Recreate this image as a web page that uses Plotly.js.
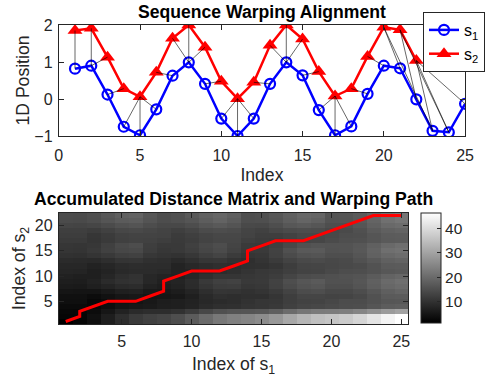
<!DOCTYPE html>
<html>
<head>
<meta charset="utf-8">
<script src="https://cdn.plot.ly/plotly-3.0.1.min.js"></script>
<style>html,body{margin:0;padding:0;background:#fff;}#chart{width:485px;height:381px;}</style>
</head>
<body>
<div id="chart"></div>
<script>
// ---- data ----
const s1 = [0.82,0.90,0.12,-0.75,-0.98,-0.28,0.63,0.99,0.41,-0.53,-1.00,-0.53,0.41,0.99,0.64,-0.30,-0.98,-0.74,0.14,0.90,0.83,-0.01,-0.86,-0.90,-0.13];
const s2 = [1.85,1.91,1.13,0.28,0.06,0.72,1.64,2.00,1.40,0.48,0.01,0.45,1.45,2.00,1.62,0.74,0.08,0.28,1.15,1.94,1.87,1.04];

// warping path (index of s1, index of s2) as drawn on the matrix
const pathI = [1,2,2,3,4,5,6,7,8,8,8,9,10,11,12,13,14,14,14,15,16,17,18,19,20,21,22,23,24,25];
const pathJ = [1,2,3,4,5,5,5,6,7,8,9,10,11,11,11,12,13,14,15,16,17,17,17,18,19,20,21,22,22,22];

// alignment links drawn in the top panel (index of s1, index of s2)
const linkI = [1,2,2,3,4,5,6,7,8,8,8,9,10,11,12,13,14,14,14,15,16,17,18,19,20,21,22,23,24,23,24,25];
const linkJ = [1,2,3,4,5,5,5,6,7,8,9,10,11,11,11,12,13,14,15,16,17,17,17,18,19,20,21,20,21,22,22,22];

// accumulated distance matrix, rows = index of s2 (1..22), cols = index of s1 (1..25)
const accRows = [
[1.0,2.0,3.7,6.3,9.1,11.3,12.5,13.4,14.8,17.2,20.0,22.4,23.8,24.7,25.9,28.1,30.9,33.5,35.2,36.1,37.2,39.0,41.7,44.5,46.5],
[2.1,2.0,3.8,6.4,9.2,11.3,12.6,13.4,14.9,17.2,20.1,22.5,23.9,24.8,26.0,28.1,31.0,33.5,35.3,36.2,37.2,39.1,41.8,44.5,46.5],
[2.4,2.3,3.1,4.9,7.0,8.5,9.0,9.1,9.8,11.5,13.6,15.3,16.0,16.1,16.6,18.0,20.2,22.0,23.0,23.2,23.5,24.7,26.7,28.7,30.0],
[3.0,2.9,2.4,3.5,4.7,5.3,5.6,6.3,6.5,7.3,8.6,9.4,9.5,10.2,10.6,11.2,12.4,13.4,13.6,14.2,14.7,15.0,16.2,17.4,17.8],
[3.7,3.7,2.5,3.2,4.3,4.6,5.2,6.1,6.5,7.1,8.1,8.7,9.1,10.0,10.6,10.9,12.0,12.8,12.9,13.7,14.5,14.5,15.5,16.4,16.6],
[3.8,3.9,3.1,4.0,4.9,5.3,4.7,5.0,5.3,6.5,8.3,9.4,9.0,9.3,9.4,10.4,12.1,13.4,13.4,13.0,13.1,13.9,15.5,17.1,17.3],
[4.7,4.6,4.6,5.5,6.6,6.9,5.7,5.4,6.2,7.5,9.2,10.4,10.3,9.7,10.3,11.3,13.0,14.5,14.9,13.8,13.8,14.8,16.4,18.0,18.8],
[5.8,5.7,6.5,7.4,8.5,8.9,7.1,6.4,7.0,8.7,10.5,11.7,11.8,10.7,11.0,12.6,14.3,15.8,16.3,14.9,14.9,15.9,17.7,19.3,20.1],
[6.4,6.2,7.0,8.6,9.7,10.1,7.9,6.8,7.4,8.9,11.1,12.4,12.7,11.1,11.4,12.7,15.0,16.4,17.0,15.4,15.4,16.4,18.1,20.0,20.8],
[6.8,6.6,6.5,7.8,9.2,10.0,8.0,7.3,6.9,7.9,9.3,10.4,10.4,10.9,11.1,11.9,13.3,14.6,14.9,15.3,15.7,15.9,17.3,18.7,19.3],
[7.6,7.5,6.6,7.3,8.3,8.6,8.6,8.3,7.3,7.4,8.4,8.9,9.3,10.3,11.0,11.3,12.3,13.0,13.1,14.0,14.8,14.9,15.7,16.6,16.8],
[7.9,7.9,7.0,7.8,8.7,9.0,8.8,8.8,7.3,8.2,8.8,9.4,9.0,9.5,9.7,10.5,11.9,13.1,13.3,13.6,14.0,14.4,15.7,17.1,17.2],
[8.6,8.5,8.3,9.2,10.3,10.5,9.6,9.2,8.3,9.3,10.7,10.8,10.0,9.4,10.3,11.5,12.9,14.1,14.4,13.9,14.2,15.4,16.7,18.1,18.7],
[9.7,9.6,10.2,11.1,12.2,12.6,10.9,10.2,9.9,10.9,12.3,13.2,11.6,10.5,10.8,12.6,14.4,15.6,15.9,15.0,15.0,16.2,18.3,19.6,20.2],
[10.5,10.3,11.1,12.6,13.7,14.1,11.9,10.9,11.1,12.1,13.5,14.4,12.8,11.1,11.4,12.7,15.2,16.8,17.1,15.7,15.8,16.7,18.7,20.8,21.4],
[10.6,10.5,10.9,12.4,14.1,14.7,12.0,11.1,11.2,12.4,13.8,14.8,13.2,11.3,11.2,12.2,13.9,15.4,16.0,15.8,15.8,16.5,18.1,19.7,20.6],
[11.4,11.3,10.5,11.3,12.4,12.8,12.6,12.0,11.4,11.8,12.9,13.5,13.5,12.2,11.7,11.6,12.6,13.4,13.5,14.3,15.1,15.2,16.1,17.1,17.3],
[11.9,11.9,10.7,11.5,12.6,13.0,12.9,12.7,11.6,12.2,13.1,13.7,13.6,13.0,12.1,12.1,12.8,13.6,13.6,14.1,14.7,15.0,16.1,17.3,17.5],
[12.2,12.2,11.7,12.6,13.7,14.0,13.5,12.9,12.3,13.2,14.4,14.8,14.4,13.1,12.6,13.6,14.3,14.7,14.6,13.8,14.2,15.3,17.0,18.2,18.6],
[13.4,13.2,13.5,14.4,15.5,15.9,14.8,13.8,13.8,14.8,16.2,16.9,15.9,14.1,13.9,14.9,16.5,17.0,16.4,14.9,14.9,16.1,18.1,19.8,20.2],
[14.4,14.2,14.9,16.1,17.2,17.6,16.0,14.7,15.3,16.2,17.6,18.6,17.3,14.9,15.1,16.1,17.7,19.1,18.1,15.8,15.9,16.8,18.8,20.9,21.8],
[14.6,14.3,15.1,16.7,18.2,18.6,16.4,14.8,15.3,16.9,18.3,19.2,18.0,15.0,15.3,16.5,18.1,19.5,19.0,16.0,16.1,17.0,18.7,20.7,21.8]
];
const colorbarTicks = [10,20,30,40];

// ---- build traces ----
const idx1 = s1.map((_, k) => k + 1);
const idx2 = s2.map((_, k) => k + 1);

const linkX = [], linkY = [];
for (let k = 0; k < linkI.length; k++) {
  linkX.push(linkI[k], linkJ[k], null);
  linkY.push(s1[linkI[k]-1], s2[linkJ[k]-1], null);
}

const FONT = 'Arial, "Liberation Sans", Helvetica, sans-serif';
const AX = '#262626';

let zmin = Infinity, zmax = -Infinity;
accRows.forEach(r => r.forEach(v => { if (v < zmin) zmin = v; if (v > zmax) zmax = v; }));

const traces = [
  {x: idx1, y: s1, type: 'scatter', mode: 'lines+markers', name: 's<sub>1</sub>',
   line: {color: '#0000FF', width: 2.5},
   marker: {symbol: 'circle-open', size: 10, color: '#0000FF', line: {width: 2.2, color: '#0000FF'}},
   xaxis: 'x', yaxis: 'y'},
  {x: idx2, y: s2, type: 'scatter', mode: 'lines+markers', name: 's<sub>2</sub>',
   line: {color: '#FF0000', width: 2.5},
   marker: {symbol: 'triangle-up', size: 13, color: '#FF0000'},
   xaxis: 'x', yaxis: 'y'},
  {x: linkX, y: linkY, type: 'scatter', mode: 'lines', showlegend: false,
   line: {color: '#000000', width: 0.6}, xaxis: 'x', yaxis: 'y', connectgaps: false},
  {z: accRows, x: idx1, y: idx2, type: 'heatmap', xaxis: 'x2', yaxis: 'y2',
   zmin: zmin, zmax: zmax,
   colorscale: [[0, '#000000'], [1, '#FFFFFF']], showscale: true,
   colorbar: {
     x: 423/485, xanchor: 'left', xref: 'paper',
     y: (381-268)/381, yanchor: 'middle', yref: 'paper',
     len: 110, lenmode: 'pixels', thickness: 20, thicknessmode: 'pixels',
     outlinecolor: AX, outlinewidth: 1,
     tickvals: colorbarTicks, ticks: 'inside', ticklen: 4, tickcolor: AX,
     ticklabelstandoff: 3,
     tickfont: {family: FONT, size: 15.5, color: AX},
     xpad: 0, ypad: 0
   }, showlegend: false},
  {x: pathI, y: pathJ, type: 'scatter', mode: 'lines', showlegend: false,
   line: {color: '#FF0000', width: 3}, xaxis: 'x2', yaxis: 'y2'}
];

const axisCommon = {
  showline: true, linecolor: AX, linewidth: 1, mirror: 'ticks',
  ticks: 'inside', ticklen: 5, tickcolor: AX, tickwidth: 1,
  showgrid: false, zeroline: false, automargin: false,
  tickfont: {family: FONT, size: 16, color: AX}
};

const layout = {
  width: 485, height: 381,
  margin: {l: 0, r: 0, t: 0, b: 0},
  paper_bgcolor: '#FFFFFF', plot_bgcolor: '#FFFFFF',
  font: {family: FONT, color: AX},
  showlegend: true,
  title: {text: '<b>Sequence Warping Alignment</b>', x: 263/485, xref: 'paper',
          y: (381-12)/381, yref: 'container', xanchor: 'center', yanchor: 'middle',
          font: {family: FONT, size: 17.6, color: '#000000'}},
  xaxis: Object.assign({}, axisCommon, {
    domain: [59/485, 467/485], anchor: 'y', range: [0, 25],
    tickvals: [0,5,10,15,20,25], ticklabelstandoff: 5,
    title: {text: 'Index', font: {family: FONT, size: 17.6, color: AX}, standoff: 5}
  }),
  yaxis: Object.assign({}, axisCommon, {
    domain: [(381-136)/381, (381-25)/381], anchor: 'x', range: [-1, 2],
    tickvals: [-1,0,1,2], ticklabelstandoff: 2,
    title: {text: '1D Position', font: {family: FONT, size: 17.6, color: AX}, standoff: 0}
  }),
  xaxis2: Object.assign({}, axisCommon, {
    domain: [59/485, 410/485], anchor: 'y2', range: [0.5, 25.5],
    tickvals: [5,10,15,20,25], ticklabelstandoff: 3,
    title: {text: 'Index of s<sub>1</sub>', font: {family: FONT, size: 17.6, color: AX}, standoff: 8}
  }),
  yaxis2: Object.assign({}, axisCommon, {
    domain: [(381-324)/381, (381-213)/381], anchor: 'x2', range: [0.5, 22.5],
    tickvals: [5,10,15,20], ticklabelstandoff: 2,
    title: {text: 'Index of s<sub>2</sub>', font: {family: FONT, size: 17.6, color: AX}, standoff: 4}
  }),
  legend: {
    x: 425/485, xanchor: 'left', y: (381-12)/381, yanchor: 'top',
    bgcolor: '#FFFFFF', bordercolor: AX, borderwidth: 1,
    font: {family: FONT, size: 16, color: '#000000'},
    itemwidth: 30, tracegroupgap: 0
  },
  annotations: [
    {text: '<b>Accumulated Distance Matrix and Warping Path</b>', showarrow: false,
     xref: 'paper', yref: 'paper', x: 234.5/485, y: (381-199.5)/381,
     xanchor: 'center', yanchor: 'middle',
     font: {family: FONT, size: 17.6, color: '#000000'}}
  ]
};

Plotly.newPlot('chart', traces, layout, {displayModeBar: false, staticPlot: true});
</script>
</body>
</html>
